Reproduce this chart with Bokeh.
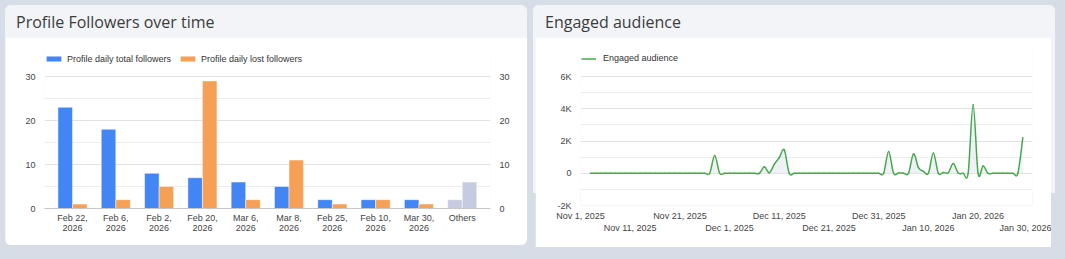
import numpy as np
import pandas as pd
from bokeh.plotting import figure
from bokeh.models import (ColumnDataSource, Legend, LegendItem, LinearAxis,
                          FixedTicker, Range1d, Div, Column, Row)
from bokeh.transform import dodge
from bokeh.embed import file_html
from bokeh.resources import INLINE

# ---------------- data: left chart ----------------
categories = ["Feb 22, 2026", "Feb 6, 2026", "Feb 2, 2026", "Feb 20, 2026",
              "Mar 6, 2026", "Mar 8, 2026", "Feb 25, 2026", "Feb 10, 2026",
              "Mar 30, 2026", "Others"]
total_followers = [23, 18, 8, 7, 6, 5, 2, 2, 2, 2]
lost_followers = [1, 2, 5, 29, 2, 11, 1, 2, 1, 6]
left_y_ticks = [0, 10, 20, 30]
left_y_minor = [5, 15, 25]

# ---------------- data: right chart ----------------
engaged_start = "2025-11-03"
engaged_audience = [
    0, 0, 0, 0, 0, 0, 0, 0, 0, 0, 0, 0, 0, 0, 0, 0, 0, 0, 0, 0, 0, 0, 0, 0, 0,  # Nov 3 - Nov 27
    1100,                                   # Nov 28
    0, 0, 0, 0, 0, 0, 0, 0, 0,              # Nov 29 - Dec 7
    400, 30, 560, 970, 1450,                # Dec 8 - Dec 12
    0, 0, 0, 0, 0, 0, 0, 0, 0, 0, 0, 0, 0, 0, 0, 0, 0, 0, 0, 0,  # Dec 13 - Jan 1
    1350, 0, 20, 0, 0,                      # Jan 2 - Jan 6
    1200, 350, 120, 0, 1250,                # Jan 7 - Jan 11
    0, 50, 30, 600, 20, 0, 0,               # Jan 12 - Jan 18
    4250, 0, 450,                           # Jan 19 - Jan 21
    0, 0, 0, 0, 0, 0, 0,                    # Jan 22 - Jan 28
    2200,                                   # Jan 29
]
x_tick_dates = ["2025-11-01", "2025-11-11", "2025-11-21", "2025-12-01", "2025-12-11",
                "2025-12-21", "2025-12-31", "2026-01-10", "2026-01-20", "2026-01-30"]
x_tick_labels = ["Nov 1, 2025", "Nov 11, 2025", "Nov 21, 2025", "Dec 1, 2025", "Dec 11, 2025",
                 "Dec 21, 2025", "Dec 31, 2025", "Jan 10, 2026", "Jan 20, 2026", "Jan 30, 2026"]
right_y_ticks = [-2000, 0, 2000, 4000, 6000]
right_y_labels = ["-2K", "0", "2K", "4K", "6K"]
right_y_minor = [-1000, 1000, 3000, 5000]

# ---------------- styles ----------------
PAGE_BG = "#d6dde6"
CARD_BG = "#f3f4f7"
BLUE = "#4285f4"
ORANGE = "#f5a054"
OTHERS = "#c5cbe0"
GREEN = "#46a84c"
FONT = "Liberation Sans"
TICK_SIZE = "9px"
TICK_COLOR = "#444444"
LEGEND_ROOM = 26   # px of frame kept above the top tick for the legend


def style_axis(ax, standoff, line_color=None):
    ax.axis_line_color = line_color
    ax.major_tick_line_color = None
    ax.minor_tick_line_color = None
    ax.major_tick_out = 0
    ax.major_tick_in = 0
    ax.major_label_standoff = standoff
    ax.major_label_text_font = FONT
    ax.major_label_text_font_size = TICK_SIZE
    ax.major_label_text_color = TICK_COLOR


def make_legend(items, glyph_width, standoff, loc):
    return Legend(items=items, orientation="horizontal", location=loc,
                  glyph_width=glyph_width, glyph_height=7, label_height=10, label_width=10,
                  label_standoff=standoff, spacing=7, padding=0, margin=0,
                  border_line_color=None, background_fill_alpha=0,
                  label_text_font=FONT, label_text_font_size=TICK_SIZE,
                  label_text_color="#333333")


# ================= left chart =================
n = len(categories)
xs = list(range(n))
line1 = [c.split(", ")[0] + ("," if ", " in c else "") for c in categories]
line2 = [c.split(", ")[1] if ", " in c else "" for c in categories]
total_colors = [OTHERS if c == "Others" else BLUE for c in categories]
lost_colors = [OTHERS if c == "Others" else ORANGE for c in categories]

src_l = ColumnDataSource(dict(x=xs, total=total_followers, lost=lost_followers,
                              tc=total_colors, lc=lost_colors))

L_H, L_TOP, L_BOT = 208, 13, 37
l_plot_h = L_H - L_TOP - L_BOT - LEGEND_ROOM
l_y_end = left_y_ticks[-1] * (l_plot_h + LEGEND_ROOM) / l_plot_h

pL = figure(width=522, height=L_H, x_range=Range1d(-0.647, 9.653),
            y_range=Range1d(0, l_y_end),
            x_axis_location=None, y_axis_location=None,
            output_backend="svg", toolbar_location=None,
            min_border_left=39, min_border_right=37, min_border_top=L_TOP, min_border_bottom=L_BOT,
            background_fill_color="white", border_fill_color="white",
            outline_line_color=None, margin=(0, 0, 0, 0))
pL.xgrid.grid_line_color = None
pL.ygrid.ticker = FixedTicker(ticks=left_y_ticks, minor_ticks=left_y_minor)
pL.ygrid.grid_line_color = "#e2e2e2"
pL.ygrid.minor_grid_line_color = "#ececec"

r_total = pL.vbar(x=dodge("x", -0.168, range=pL.x_range), top="total", width=0.335,
                  source=src_l, fill_color="tc", line_color="white", line_alpha=0.45,
                  line_width=1)
r_lost = pL.vbar(x=dodge("x", 0.168, range=pL.x_range), top="lost", width=0.335,
                 source=src_l, fill_color="lc", line_color="white", line_alpha=0.45,
                 line_width=1)

ax_ly = LinearAxis(ticker=FixedTicker(ticks=left_y_ticks))
style_axis(ax_ly, 9)
pL.add_layout(ax_ly, "left")
ax_ry = LinearAxis(ticker=FixedTicker(ticks=left_y_ticks))
style_axis(ax_ry, 9)
pL.add_layout(ax_ry, "right")

ax_b1 = LinearAxis(ticker=FixedTicker(ticks=xs),
                   major_label_overrides={i: line1[i] for i in xs})
style_axis(ax_b1, 4, line_color="#c6c6c6")
pL.add_layout(ax_b1, "below")
ax_b2 = LinearAxis(ticker=FixedTicker(ticks=xs),
                   major_label_overrides={i: line2[i] for i in xs})
style_axis(ax_b2, -1)
pL.add_layout(ax_b2, "below")

leg_l = make_legend([LegendItem(label="Profile daily total followers", renderers=[r_total], index=0),
                     LegendItem(label="Profile daily lost followers", renderers=[r_lost], index=0)],
                    19, 4, (0, 144.5))
pL.add_layout(leg_l, "center")

# ================= right chart =================
origin = pd.Timestamp(x_tick_dates[0])
eng_dates = pd.date_range(engaged_start, periods=len(engaged_audience), freq="D")
ex = np.array([(d - origin).days for d in eng_dates], dtype=float)
ey = np.array(engaged_audience, dtype=float)
tick_days = [(pd.Timestamp(d) - origin).days for d in x_tick_dates]

# smooth curve segments (Catmull-Rom -> cubic Bezier), like the original's curved line
m = len(ex)
i0 = np.arange(m - 1)
prv = np.clip(i0 - 1, 0, m - 1)
nxt = np.clip(i0 + 2, 0, m - 1)
seg = ColumnDataSource(dict(
    x0=ex[i0], y0=ey[i0], x1=ex[i0 + 1], y1=ey[i0 + 1],
    cx0=ex[i0] + (ex[i0 + 1] - ex[prv]) / 6.0, cy0=ey[i0] + (ey[i0 + 1] - ey[prv]) / 6.0,
    cx1=ex[i0 + 1] - (ex[nxt] - ex[i0]) / 6.0, cy1=ey[i0 + 1] - (ey[nxt] - ey[i0]) / 6.0,
))

R_H, R_TOP, R_BOT = 210, 13, 42
r_plot_h = R_H - R_TOP - R_BOT - LEGEND_ROOM
r_span = right_y_ticks[-1] - right_y_ticks[0]
r_y_end = right_y_ticks[0] + r_span * (r_plot_h + LEGEND_ROOM) / r_plot_h

pR = figure(width=516, height=R_H, x_range=Range1d(0, 90.95),
            y_range=Range1d(right_y_ticks[0], r_y_end),
            x_axis_location=None, y_axis_location=None,
            output_backend="svg", toolbar_location=None,
            min_border_left=45, min_border_right=19, min_border_top=R_TOP, min_border_bottom=R_BOT,
            background_fill_color="white", border_fill_color="white",
            outline_line_color=None, margin=(0, 0, 0, 2))
pR.xgrid.grid_line_color = None
pR.ygrid.ticker = FixedTicker(ticks=right_y_ticks, minor_ticks=right_y_minor)
pR.ygrid.grid_line_color = "#e2e2e2"
pR.ygrid.minor_grid_line_color = "#ececec"

pR.varea(x=ex, y1=0, y2=ey, fill_color="#e6e8f0", fill_alpha=0.6)
pR.bezier(x0="x0", y0="y0", x1="x1", y1="y1", cx0="cx0", cy0="cy0", cx1="cx1", cy1="cy1",
          source=seg, line_color=GREEN, line_width=1.5, line_cap="round")
# one-point line (draws nothing in the plot) that provides the legend swatch
r_leg = pR.line(x=ex[:1], y=ey[:1], line_color=GREEN, line_width=1.5)

ax_ry2 = LinearAxis(ticker=FixedTicker(ticks=right_y_ticks),
                    major_label_overrides={t: l for t, l in zip(right_y_ticks, right_y_labels)})
style_axis(ax_ry2, 9)
pR.add_layout(ax_ry2, "left")

top_ticks = tick_days[0::2]
bot_ticks = tick_days[1::2]
lab = {t: l for t, l in zip(tick_days, x_tick_labels)}
ax_rb1 = LinearAxis(ticker=FixedTicker(ticks=top_ticks),
                    major_label_overrides={t: lab[t] for t in top_ticks})
style_axis(ax_rb1, 5)
pR.add_layout(ax_rb1, "below")
ax_rb2 = LinearAxis(ticker=FixedTicker(ticks=bot_ticks),
                    major_label_overrides={t: lab[t] for t in bot_ticks})
style_axis(ax_rb2, -1)
pR.add_layout(ax_rb2, "below")

leg_r = make_legend([LegendItem(label="Engaged audience", renderers=[r_leg], index=0)],
                    15, 7, (1, 142))
pR.add_layout(leg_r, "center")

# ================= page layout =================
def header(text, pad):
    return Div(text=f'<div style="font-family:\'Open Sans\';font-size:16px;color:#3c3c3c;'
                    f'padding-left:{pad}px;padding-top:2px;line-height:30px;white-space:nowrap;">{text}</div>',
               width=522, height=32, margin=(0, 0, 0, 0),
               styles={"background-color": CARD_BG, "border-radius": "6px 6px 0 0"})


left_card = Column(children=[header("Profile Followers over time", 11), pL],
                   width=522, height=240, spacing=0, margin=(5, 0, 0, 5),
                   styles={"background-color": CARD_BG, "border-radius": "6px", "overflow": "hidden"})
right_card = Column(children=[header("Engaged audience", 12), pR],
                    width=522, height=242, spacing=0, margin=(5, 0, 0, 6),
                    styles={"background": f"linear-gradient({CARD_BG},{CARD_BG}) no-repeat",
                            "background-size": "100% 188px", "border-radius": "6px"})
root = Row(children=[left_card, right_card], width=1065, height=259, spacing=0,
           styles={"background-color": PAGE_BG})

open("out.html", "w").write(file_html(root, INLINE))
